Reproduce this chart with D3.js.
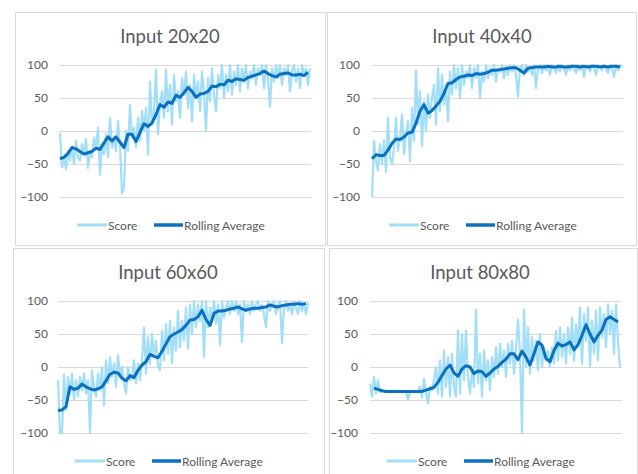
<!DOCTYPE html>
<html><head><meta charset="utf-8">
<script src="https://cdn.jsdelivr.net/npm/d3@7"></script>
<style>html,body{margin:0;padding:0;background:#fff;}svg{display:block;}</style>
</head><body>
<svg id="c" width="638" height="474"></svg>
<script>
const titles = ["Input 20x20", "Input 40x40", "Input 60x60", "Input 80x80"];
const seriesNames = ["Score", "Rolling Average"];
const tickValues = [-100, -50, 0, 50, 100];

const score20 = [-3,-55,-40,-58,-30,-45,-25,-50,-15,-40,
 -45,-20,-35,-12,-56,-30,-40,-10,-25,5,
 -66,-20,-35,-5,-40,20,-25,-10,-30,15,
 -20,-95,-85,0,-30,40,-10,5,-25,20,
 -15,30,0,35,-36,75,10,30,93,-5,
 40,60,20,93,30,70,10,85,45,60,
 20,80,55,90,35,70,15,85,50,75,
 30,90,60,0,80,45,95,55,30,85,
 65,100,50,85,60,100,55,90,70,100,
 60,95,75,100,65,90,80,100,70,95,
 85,100,65,100,80,37,95,75,100,80,
 100,70,95,85,100,60,90,100,75,95,
 65,100,85,95,70,95];
const avg20 = [-42,-40,-34,-25,-27,-31,-35,-33,-31,-26,-28,-18,-9,-15,-9,-17,-25,-5,-5,-16,
 -2,11,7,12,25,40,36,44,42,54,51,58,66,60,51,56,57,60,68,67,
 71,70,77,75,79,78,77,81,83,85,87,91,87,84,82,86,87,88,85,85,86,84,89];

const score40 = [-100,-15,-45,-60,-20,-50,-14,-62,20,-40,
 -50,-25,20,-30,-10,25,-35,-5,15,-46,
 35,-15,92,10,60,-23,45,0,55,20,
 50,70,10,95,30,85,40,70,15,90,
 55,100,65,95,50,100,70,90,80,100,
 65,95,80,100,51,90,75,100,80,95,
 85,100,75,95,90,100,80,98,85,100,
 90,100,85,52,95,100,85,100,90,98,
 85,100,65,95,100,88,100,92,98,85,
 100,95,88,100,90,100,95,85,100,92,
 100,95,88,100,92,100,82,98,100,90,
 100,95,85,100,98,92,100,95,88,100,
 95,82,100,92,100,96];
const avg40 = [-42,-36,-37,-37,-29,-19,-12,-13,-9,-3,-2,12,30,40,27,31,38,45,57,72,
 73,78,82,83,85,84,87,86,87,89,92,92,93,94,95,96,96,92,88,95,
 96,97,97,97,98,97,97,98,97,97,98,98,97,98,97,98,98,97,98,97,98,98,97];

const score60 = [-20,-100,-100,-12,-65,-15,-40,-10,-50,-20,
 -45,-15,-35,-10,-40,-20,-100,-5,-30,-45,
 -10,-35,0,-58,10,-25,15,-15,5,-30,
 18,-10,0,-25,-40,0,-20,-15,10,-25,
 5,-20,10,60,-10,45,5,50,15,40,
 0,-5,55,10,65,20,70,6,60,25,
 85,30,70,40,90,28,95,50,100,60,
 95,70,100,15,100,60,90,70,100,65,
 95,33,100,75,90,100,80,100,85,100,
 80,95,38,100,85,95,80,100,85,95,
 100,85,95,80,60,100,85,95,100,80,
 95,100,36,90,100,85,95,80,100,90,
 80,100,85,95,80,98];
const avg60 = [-66,-65,-60,-30,-34,-32,-26,-30,-33,-35,-33,-30,-21,-11,-8,-9,-17,-21,-13,-16,
 -5,3,8,19,16,14,24,35,46,50,53,57,63,71,72,76,86,72,63,81,
 85,85,86,88,89,91,88,86,88,89,89,90,91,94,92,91,93,94,95,95,96,95,96];

const score80 = [-25,-45,-15,-40,-20,-38,-37,-36,-37,-38,
 -37,-36,-37,-38,-37,-36,-37,-38,-37,-50,
 -37,-36,-38,-37,-36,-30,-46,-18,-40,-55,
 -30,-35,-20,0,-40,10,-45,25,-30,15,
 -45,20,-30,-45,55,-40,50,-20,55,-15,
 -40,-5,-30,87,-25,20,-45,25,-20,10,
 -35,15,-15,30,-10,35,0,25,-15,35,
 5,40,-10,30,72,20,-100,87,0,60,
 -10,45,10,40,-5,50,0,30,10,25,
 0,30,5,55,10,60,15,50,5,60,
 20,75,10,65,30,90,5,80,40,90,
 0,70,20,85,10,90,45,80,30,95,
 50,85,20,95,40,0];
const avg80 = [null,-32,-34,-36,-37,-37,-37,-37,-37,-37,-37,-37,-37,-37,-35,-33,-31,-23,-13,-3,
 3,-9,-14,-3,2,0,-10,-6,-7,-14,-9,-3,1,7,12,20,20,11,24,15,
 3,20,38,33,13,8,25,36,32,34,38,26,34,48,64,50,38,48,56,72,76,72,68];

const scores = [score20, score40, score60, score80];
const avgs = [avg20, avg40, avg60, avg80];

// layout (positions only)
const panels = [
  {box:[15.5,12.5,310,233], x:[60,310], y:[197,65], lab:48, tx:170, ty:36, ly:225, lx:77},
  {box:[327.5,12.5,309,233], x:[372,622], y:[197,65], lab:360, tx:482, ty:36, ly:225, lx:389},
  {box:[13.5,248.5,311,240], x:[58,308], y:[433,301], lab:48, tx:168, ty:272, ly:461, lx:75},
  {box:[329.5,248.5,308,240], x:[370,620], y:[433,301], lab:358, tx:480, ty:272, ly:461, lx:387}
];
const grid = [[59,311],[372,623],[58,308],[370,622]];

const scoreColor = "#a2def7";
const avgColor = "#0a70c0";
const textColor = "#595959";
const font = "Lato, 'Open Sans', sans-serif";

const svg = d3.select("#c");

panels.forEach((p, pi) => {
  const g = svg.append("g");
  g.append("rect").attr("x", p.box[0]).attr("y", p.box[1]).attr("width", p.box[2]).attr("height", p.box[3])
    .attr("fill", "#fff").attr("stroke", "#d9d9d9").attr("stroke-width", 1);

  const sc = scores[pi], av = avgs[pi];
  const x = d3.scaleLinear().domain([0, sc.length - 1]).range(p.x);
  const y = d3.scaleLinear().domain([-100, 100]).range(p.y);

  // gridlines
  const gx = d3.scaleLinear().domain([0, 1]).range(grid[pi]);
  g.selectAll("line.grid").data(tickValues).join("line")
    .attr("x1", gx(0)).attr("x2", gx(1))
    .attr("y1", d => Math.round(y(d)) + 0.5).attr("y2", d => Math.round(y(d)) + 0.5)
    .attr("stroke", "#d9d9d9").attr("stroke-width", 1);

  // y axis labels via d3.axisLeft
  const axis = d3.axisLeft(y).tickValues(tickValues).tickSize(0).tickPadding(0);
  const ag = g.append("g").attr("transform", `translate(${p.lab},0)`).call(axis);
  ag.select(".domain").remove();
  ag.selectAll("text").attr("fill", textColor).style("font-family", font).style("font-size", "12px");

  // series
  const lineScore = d3.line().x((d, i) => x(i)).y(d => y(d));
  g.append("path").datum(sc).attr("d", lineScore)
    .attr("fill", "none").attr("stroke", scoreColor).attr("stroke-width", 2.2).attr("stroke-linejoin", "round");

  const lineAvg = d3.line().defined(d => d !== null).x((d, i) => x(i * 2)).y(d => y(d));
  g.append("path").datum(av).attr("d", lineAvg)
    .attr("fill", "none").attr("stroke", avgColor).attr("stroke-width", 3).attr("stroke-linejoin", "round");

  // title
  g.append("text").attr("x", p.tx).attr("y", p.ty).attr("text-anchor", "middle").attr("dominant-baseline", "central")
    .attr("fill", textColor).style("font-family", font).style("font-size", "18.5px").text(titles[pi]);

  // legend
  const lg = g.append("g").attr("transform", `translate(${p.lx},${p.ly})`);
  lg.append("line").attr("x1", 0).attr("x2", 30).attr("y1", 0).attr("y2", 0).attr("stroke", scoreColor).attr("stroke-width", 3);
  lg.append("text").attr("x", 31).attr("y", 0).attr("dominant-baseline", "central").attr("fill", textColor)
    .style("font-family", font).style("font-size", "12px").text(seriesNames[0]);
  lg.append("line").attr("x1", 77).attr("x2", 106).attr("y1", 0).attr("y2", 0).attr("stroke", avgColor).attr("stroke-width", 3.5);
  lg.append("text").attr("x", 107).attr("y", 0).attr("dominant-baseline", "central").attr("fill", textColor)
    .style("font-family", font).style("font-size", "12px").text(seriesNames[1]);
});
</script>
</body></html>
